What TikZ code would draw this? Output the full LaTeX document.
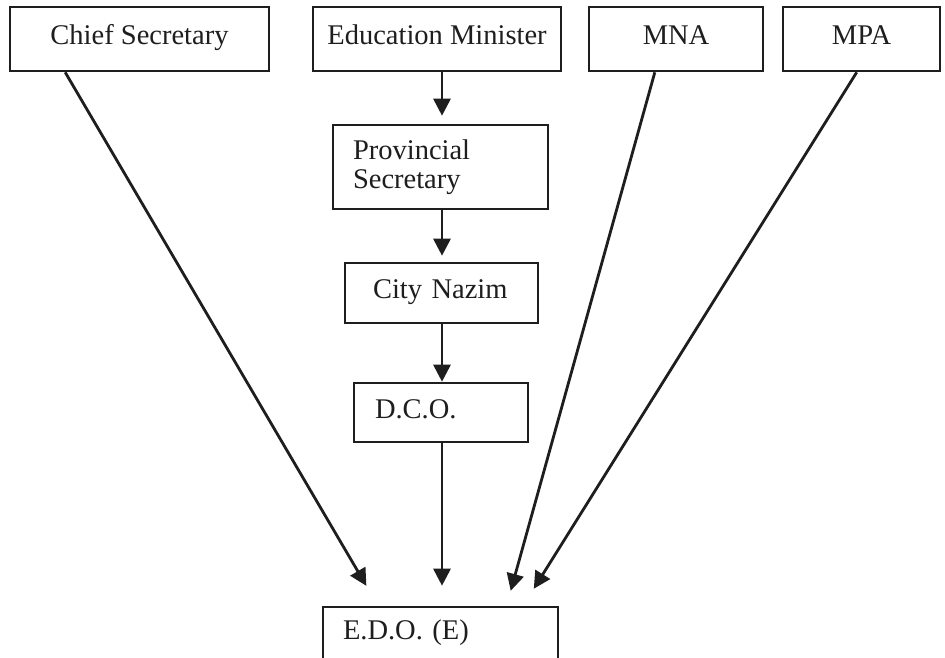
\documentclass[tikz,border=0pt]{standalone}
\usepackage{fontspec}
\setmainfont{Liberation Serif}
\usetikzlibrary{calc,arrows.meta}
\definecolor{ink}{HTML}{1E1E1E}
\begin{document}
\begin{tikzpicture}[x=1pt,y=-1pt,
  topbox/.style={draw=ink, line width=2.6pt, rectangle, inner sep=0pt,
    minimum height=64pt, text=ink, font=\fontsize{28.5}{29}\selectfont,
    text height=19pt, text depth=8pt, align=center},
  lowbox/.style={draw=ink, line width=2.6pt, rectangle, inner ysep=0pt,
    text=ink, font=\fontsize{28.5}{29}\selectfont, align=left},
  onel/.style={text height=19pt, text depth=8pt},
  arr/.style={draw=ink, line width=2.8pt, -{Triangle[length=17pt,width=17pt]}}]
\useasboundingbox (0,0) rectangle (945,658);
\fill[white] (0,0) rectangle (945,658);

% top row
\node[topbox, minimum width=259pt] (cs)  at (139.5,39) {Chief Secretary};
\node[topbox, minimum width=248pt] (em)  at (437,39)   {Education Minister};
\node[topbox, minimum width=174pt] (mna) at (676,39)   {MNA};
\node[topbox, minimum width=157pt] (mpa) at (861.5,39) {MPA};

% chain
\node[lowbox, inner xsep=20pt, text width=175pt, minimum height=84pt] (ps) at (440.5,167) {Provincial\\Secretary};
\node[lowbox, onel, inner xsep=28pt, text width=137pt, minimum height=60pt] (cn) at (441.5,293) {City Nazim};
\node[lowbox, onel, inner xsep=21pt, text width=132pt, minimum height=59pt] (dco) at (441,412.5) {D.C.O.};
\node[lowbox, onel, inner xsep=20pt, text width=195pt, minimum height=53pt] (edo) at (440.5,633.5) {E.D.O. (E)};

\coordinate (spine) at (442,0);

% vertical arrows
\draw[arr, shorten >=8pt] (em.south -| spine) -- (ps.north -| spine);
\draw[arr, shorten >=6pt] (ps.south -| spine) -- (cn.north -| spine);
\draw[arr] (cn.south -| spine) -- (dco.north -| spine);
\draw[arr, shorten >=20pt] (dco.south -| spine) -- (edo.north -| spine);

% diagonal arrows
\draw[arr, shorten >=23pt] ($(cs.south west)!0.216!(cs.south east)$) -- ($(edo.north west)!0.237!(edo.north east)$);
\draw[arr, shorten >=15.5pt] ($(mna.south west)!0.38!(mna.south east)$) -- ($(edo.north west)!0.778!(edo.north east)$);
\draw[arr, shorten >=20pt] ($(mpa.south west)!0.47!(mpa.south east)$) -- ($(edo.north west)!0.848!(edo.north east)$);
\end{tikzpicture}
\end{document}
